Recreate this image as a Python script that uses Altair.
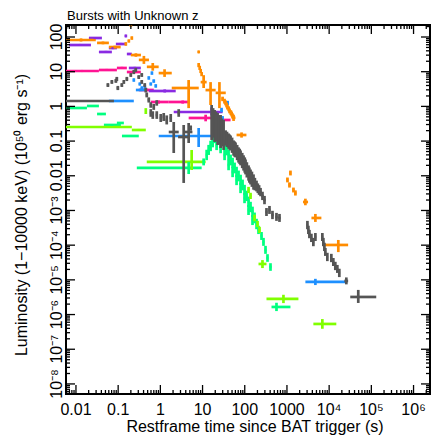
import altair as alt
import pandas as pd

# All values are log10: (t, t_lo, t_hi, L, L_lo, L_hi); t in s, L in 1e50 erg/s
SPRING = [
    (-1.953, -2.40, -1.74, -0.046, -0.07, -0.02),
    (-1.598, -1.74, -1.456, 0.012, -0.01, 0.04),
    (-1.409, -1.50, -1.29, -0.219, -0.25, -0.19),
    (-1.149, -1.338, -0.936, -0.536, -0.565, -0.51),
    (-0.96, -1.03, -0.865, -0.478, -0.505, -0.45),
    (-0.70, -0.91, -0.511, -0.853, -0.88, -0.825),
    (0.671, -0.558, 0.979, -1.775, -1.95, -1.60),
    (1.026, 0.99, 1.06, -1.602, -1.70, -1.50),
    (1.097, 1.075, 1.12, -1.401, -1.55, -1.25),
    (1.144, 1.125, 1.165, -1.256, -1.40, -1.11),
    (1.191, 1.17, 1.21, -1.141, -1.29, -0.99),
    (1.239, 1.22, 1.26, -1.026, -1.18, -0.88),
    (1.286, 1.265, 1.305, -0.911, -1.06, -0.76),
    (1.333, 1.31, 1.355, -0.824, -0.97, -0.68),
    (1.381, 1.36, 1.40, -0.767, -0.92, -0.62),
    (1.428, 1.41, 1.45, -0.882, -1.03, -0.73),
    (1.475, 1.455, 1.495, -0.968, -1.12, -0.82),
    (1.522, 1.50, 1.545, -1.112, -1.26, -0.96),
    (1.570, 1.55, 1.59, -1.256, -1.41, -1.11),
    (1.617, 1.595, 1.64, -1.401, -1.55, -1.25),
    (1.664, 1.645, 1.685, -1.545, -1.70, -1.39),
    (1.712, 1.69, 1.73, -1.631, -1.78, -1.48),
    (1.759, 1.74, 1.78, -1.775, -1.93, -1.62),
    (1.806, 1.785, 1.825, -1.890, -2.04, -1.74),
    (1.853, 1.83, 1.875, -2.006, -2.16, -1.85),
    (1.901, 1.88, 1.92, -2.121, -2.27, -1.97),
    (1.948, 1.93, 1.97, -2.265, -2.42, -2.11),
    (1.995, 1.975, 2.015, -2.409, -2.56, -2.26),
    (2.043, 2.02, 2.065, -2.582, -2.73, -2.43),
    (2.090, 2.07, 2.11, -2.755, -2.90, -2.60),
    (2.137, 2.115, 2.16, -2.899, -3.05, -2.75),
    (2.184, 2.165, 2.205, -3.043, -3.19, -2.89),
    (2.232, 2.21, 2.255, -3.216, -3.37, -3.06),
    (2.279, 2.26, 2.30, -3.389, -3.54, -3.24),
    (2.326, 2.305, 2.345, -3.562, -3.68, -3.44),
    (2.397, 2.375, 2.42, -3.735, -3.85, -3.62),
    (2.444, 2.42, 2.465, -3.908, -4.02, -3.79),
    (2.492, 2.47, 2.515, -4.138, -4.25, -4.02),
    (2.539, 2.515, 2.56, -4.369, -4.48, -4.26),
    (2.610, 2.585, 2.635, -4.628, -4.74, -4.52),
    (1.333, 1.31, 1.355, -1.112, -1.26, -0.96),
    (1.428, 1.405, 1.45, -1.199, -1.35, -1.05),
    (1.522, 1.50, 1.545, -1.401, -1.55, -1.25),
    (1.617, 1.595, 1.64, -1.689, -1.84, -1.54),
    (1.712, 1.69, 1.735, -1.890, -2.04, -1.74),
    (1.806, 1.785, 1.83, -2.121, -2.27, -1.97),
    (1.901, 1.88, 1.92, -2.352, -2.50, -2.20),
    (1.995, 1.975, 2.015, -2.640, -2.79, -2.49),
    (2.090, 2.07, 2.11, -2.986, -3.13, -2.84),
    (2.184, 2.165, 2.205, -3.274, -3.42, -3.13),
    (2.752, 2.634, 3.083, -5.781, -5.90, -5.66),
]

CHART = [
    (-1.43, -2.40, -0.676, -0.594, -0.62, -0.565),
    (-0.511, -0.676, -0.345, -0.68, -0.71, -0.65),
    (-0.345, -0.36, -0.33, -0.133, -0.22, -0.05),
    (0.742, -0.322, 1.073, -1.602, -1.833, -1.256),
    (2.090, 2.07, 2.11, -2.409, -2.50, -2.32),
    (2.137, 2.115, 2.16, -2.58, -2.67, -2.49),
    (2.232, 2.21, 2.255, -3.216, -3.31, -3.12),
    (2.303, 2.28, 2.325, -3.39, -3.48, -3.30),
    (2.35, 2.33, 2.37, -3.562, -3.65, -3.47),
    (2.42, 2.326, 2.515, -4.542, -4.66, -4.43),
    (2.917, 2.515, 3.272, -5.55, -5.67, -5.43),
    (3.839, 3.626, 4.17, -6.271, -6.41, -6.13),
]

PINK = [
    (-1.86, -2.40, -1.456, 1.02, 0.99, 1.05),
    (-1.267, -1.456, -1.03, 1.049, 1.02, 1.08),
    (-0.91, -1.03, -0.794, 1.107, 1.08, 1.14),
    (-0.63, -0.794, -0.463, 0.991, 0.96, 1.02),
    (-0.32, -0.511, -0.156, 0.473, 0.44, 0.51),
    (-0.04, -0.227, 0.199, 0.127, 0.08, 0.17),
    (0.53, 0.199, 0.671, 0.127, 0.08, 0.17),
    (1.073, 0.671, 1.333, -0.334, -0.43, -0.24),
    (1.45, 1.333, 1.664, -0.392, -0.49, -0.30),
]

PURPLE = [
    (-1.551, -1.693, -1.385, 1.971, 1.94, 2.0),
    (-1.905, -2.165, -1.645, 1.769, 1.74, 1.80),
    (-1.29, -1.456, -1.149, 1.568, 1.54, 1.60),
    (-1.125, -1.22, -1.03, 1.683, 1.65, 1.71),
    (-0.936, -1.054, -0.794, 1.798, 1.77, 1.83),
    (-0.818, -0.84, -0.80, 2.03, 1.99, 2.07),
    (-0.747, -0.794, -0.676, 1.51, 1.48, 1.54),
    (-0.605, -0.747, -0.463, 1.107, 1.07, 1.14),
    (0.104, -0.274, 0.364, 0.444, 0.40, 0.49),
    (1.215, 0.317, 1.475, -0.161, -0.26, -0.03),
]

BLUE = [
    (-0.936, -1.22, -0.629, 0.156, 0.13, 0.18),
    (-0.629, -0.65, -0.61, 0.761, 0.71, 0.81),
    (-0.487, -0.51, -0.465, 0.646, 0.60, 0.69),
    (-0.46, -0.58, -0.345, 0.473, 0.44, 0.51),
    (-0.369, -0.39, -0.35, 0.56, 0.51, 0.61),
    (-0.274, -0.295, -0.255, 0.818, 0.77, 0.87),
    (-0.227, -0.25, -0.205, 0.646, 0.60, 0.69),
    (-0.156, -0.18, -0.135, 0.732, 0.68, 0.78),
    (-0.109, -0.13, -0.09, 0.588, 0.54, 0.64),
    (-0.20, -0.22, -0.18, 0.963, 0.91, 1.01),
    (-0.44, -0.46, -0.42, 0.53, 0.48, 0.58),
    (0.908, -0.038, 1.31, -0.853, -1.17, -0.622),
    (1.593, 1.57, 1.615, 0.098, 0.04, 0.16),
    (1.45, 1.43, 1.47, -0.104, -0.17, -0.04),
    (1.475, 1.455, 1.495, -0.392, -0.50, -0.28),
    (1.40, 1.38, 1.42, -0.68, -0.78, -0.58),
    (3.674, 3.437, 4.407, -5.061, -5.15, -4.97),
]

ORANGE = [
    (-1.88, -2.40, -1.53, 1.914, 1.87, 1.96),
    (-1.36, -1.50, -1.22, 1.83, 1.79, 1.87),
    (-1.08, -1.22, -0.94, 1.71, 1.67, 1.75),
    (-0.818, -0.84, -0.80, 1.80, 1.75, 1.85),
    (-0.747, -0.77, -0.72, 1.885, 1.84, 1.93),
    (-0.676, -0.70, -0.65, 1.97, 1.92, 2.02),
    (-0.70, -0.72, -0.68, 2.40, 2.30, 2.50),
    (-0.58, -0.70, -0.46, 1.48, 1.43, 1.53),
    (-0.39, -0.51, -0.27, 1.34, 1.225, 1.455),
    (-0.18, -0.32, -0.04, 1.14, 1.03, 1.25),
    (0.10, -0.04, 0.27, 0.96, 0.85, 1.07),
    (0.908, 0.89, 0.925, 1.57, 1.53, 1.61),
    (0.908, 0.89, 0.925, 1.19, 1.13, 1.25),
    (0.932, 0.915, 0.95, 1.11, 1.05, 1.17),
    (0.955, 0.94, 0.97, 1.02, 0.96, 1.08),
    (0.979, 0.96, 1.0, 0.93, 0.87, 0.99),
    (1.026, 0.955, 1.097, 0.70, 0.53, 0.90),
    (0.67, 0.27, 0.91, 0.53, -0.05, 0.76),
    (1.19, 1.07, 1.31, 0.47, 0.04, 0.70),
    (1.40, 1.31, 1.55, 0.39, -0.05, 0.70),
    (1.475, 1.45, 1.50, 0.213, 0.15, 0.28),
    (1.52, 1.495, 1.545, 0.15, 0.08, 0.22),
    (1.546, 1.52, 1.57, 0.098, 0.03, 0.17),
    (1.57, 1.545, 1.595, 0.04, -0.03, 0.11),
    (1.59, 1.565, 1.615, -0.017, -0.09, 0.05),
    (1.62, 1.595, 1.645, -0.07, -0.14, 0.0),
    (1.64, 1.615, 1.665, -0.13, -0.20, -0.06),
    (1.67, 1.645, 1.695, -0.18, -0.25, -0.11),
    (1.69, 1.665, 1.715, -0.22, -0.29, -0.15),
    (1.71, 1.685, 1.735, -0.27, -0.34, -0.20),
    (1.735, 1.69, 1.78, -0.33, -0.42, -0.24),
    (1.924, 1.806, 2.04, -0.824, -0.90, -0.75),
    (3.083, 3.06, 3.10, -1.92, -1.99, -1.85),
    (3.012, 2.99, 3.035, -2.121, -2.19, -2.05),
    (3.06, 3.035, 3.085, -2.265, -2.34, -2.19),
    (3.154, 3.13, 3.18, -2.409, -2.48, -2.34),
    (3.20, 3.175, 3.225, -2.496, -2.57, -2.42),
    (3.437, 3.38, 3.50, -2.755, -2.85, -2.66),
    (3.674, 3.58, 3.816, -3.216, -3.33, -3.10),
    (4.217, 3.863, 4.45, -3.994, -4.2, -3.85),
]

GRAY = [
    (-1.48, -2.40, -1.10, 0.156, 0.13, 0.18),
    (-1.243, -1.27, -1.215, 0.617, 0.56, 0.67),
    (-1.149, -1.175, -1.12, 0.703, 0.65, 0.76),
    (-1.054, -1.08, -1.025, 0.732, 0.68, 0.79),
    (-1.031, -1.06, -1.005, 0.790, 0.73, 0.85),
    (-1.007, -1.035, -0.98, 0.530, 0.47, 0.59),
    (-0.912, -0.94, -0.885, 0.617, 0.56, 0.67),
    (-0.865, -0.89, -0.84, 0.703, 0.65, 0.76),
    (-0.794, -0.82, -0.765, 0.790, 0.73, 0.85),
    (-0.700, -0.725, -0.675, 0.905, 0.85, 0.96),
    (-0.629, -0.655, -0.60, 0.991, 0.93, 1.05),
    (-0.582, -0.61, -0.555, 1.049, 0.99, 1.11),
    (-0.511, -0.54, -0.485, 0.847, 0.79, 0.90),
    (-0.440, -0.465, -0.415, 0.905, 0.85, 0.96),
    (-0.440, -0.465, -0.415, 0.703, 0.65, 0.76),
    (-0.369, -0.395, -0.345, 0.617, 0.56, 0.67),
    (-0.345, -0.37, -0.32, 0.473, 0.40, 0.54),
    (-0.322, -0.345, -0.30, 0.329, 0.26, 0.40),
    (-0.274, -0.30, -0.25, 0.184, 0.11, 0.26),
    (-0.227, -0.25, -0.205, 0.040, -0.04, 0.12),
    (-0.156, -0.18, -0.13, -0.017, -0.10, 0.07),
    (-0.085, -0.11, -0.06, 0.098, 0.02, 0.18),
    (-0.227, -0.25, -0.205, -0.190, -0.30, -0.08),
    (-0.180, -0.205, -0.155, -0.248, -0.36, -0.14),
    (-0.085, -0.11, -0.06, -0.248, -0.36, -0.14),
    (0.010, -0.015, 0.035, -0.334, -0.45, -0.22),
    (0.080, 0.055, 0.105, -0.305, -0.42, -0.19),
    (0.151, 0.125, 0.175, -0.392, -0.52, -0.26),
    (0.246, 0.22, 0.27, -0.334, -0.45, -0.22),
    (0.435, 0.41, 0.46, -0.190, -0.30, -0.08),
    (0.317, 0.199, 0.435, -0.738, -1.343, -0.45),
    (0.553, 0.42, 0.69, -0.882, -2.207, -0.536),
    (0.671, 0.58, 0.76, -0.738, -1.055, -0.478),
    (0.719, 0.70, 0.74, -0.622, -0.70, -0.55),
    (1.215, 1.20, 1.23, -0.392, -0.968, 0.04),
    (1.25, 1.235, 1.265, -0.45, -0.90, -0.05),
    (1.286, 1.27, 1.30, -0.536, -1.026, -0.104),
    (1.32, 1.305, 1.335, -0.58, -1.00, -0.15),
    (1.357, 1.34, 1.37, -0.622, -1.112, -0.19),
    (1.39, 1.375, 1.405, -0.65, -1.10, -0.25),
    (1.428, 1.41, 1.445, -0.68, -1.199, -0.248),
    (1.46, 1.445, 1.475, -0.72, -1.15, -0.35),
    (1.499, 1.48, 1.52, -0.767, -1.256, -0.392),
    (1.546, 1.525, 1.565, -0.911, -1.13, -0.69),
    (1.58, 1.56, 1.60, -0.95, -1.17, -0.73),
    (1.617, 1.595, 1.64, -0.997, -1.22, -0.78),
    (1.64, 1.62, 1.66, -1.03, -1.25, -0.81),
    (1.664, 1.645, 1.685, -1.055, -1.27, -0.84),
    (1.70, 1.68, 1.72, -1.12, -1.34, -0.90),
    (1.735, 1.715, 1.755, -1.199, -1.42, -0.98),
    (1.76, 1.74, 1.78, -1.23, -1.45, -1.01),
    (1.782, 1.76, 1.80, -1.256, -1.47, -1.04),
    (1.82, 1.80, 1.84, -1.33, -1.55, -1.11),
    (1.853, 1.83, 1.875, -1.401, -1.62, -1.18),
    (1.88, 1.86, 1.90, -1.44, -1.66, -1.22),
    (1.901, 1.88, 1.92, -1.487, -1.70, -1.27),
    (1.94, 1.92, 1.96, -1.56, -1.78, -1.34),
    (1.972, 1.95, 1.99, -1.631, -1.85, -1.41),
    (2.00, 1.98, 2.02, -1.69, -1.91, -1.47),
    (2.019, 2.0, 2.04, -1.746, -1.96, -1.53),
    (2.05, 2.03, 2.07, -1.83, -2.05, -1.61),
    (2.090, 2.07, 2.11, -1.919, -2.14, -1.70),
    (2.11, 2.09, 2.13, -1.98, -2.20, -1.76),
    (2.137, 2.115, 2.16, -2.035, -2.25, -1.82),
    (2.17, 2.15, 2.19, -2.10, -2.32, -1.88),
    (2.208, 2.19, 2.23, -2.179, -2.40, -1.96),
    (2.24, 2.22, 2.26, -2.24, -2.42, -2.06),
    (2.279, 2.26, 2.30, -2.294, -2.45, -2.14),
    (2.31, 2.29, 2.33, -2.36, -2.50, -2.22),
    (2.34, 2.32, 2.36, -2.41, -2.55, -2.27),
    (2.374, 2.345, 2.40, -2.467, -2.59, -2.35),
    (2.42, 2.39, 2.45, -2.582, -2.70, -2.46),
    (2.468, 2.44, 2.495, -2.697, -2.82, -2.58),
    (2.515, 2.49, 2.54, -3.043, -3.16, -2.93),
    (2.586, 2.56, 2.61, -2.986, -3.10, -2.87),
    (2.657, 2.63, 2.685, -3.130, -3.25, -3.01),
    (2.752, 2.725, 2.78, -3.187, -3.30, -3.07),
    (2.823, 2.795, 2.85, -3.216, -3.33, -3.10),
    (3.485, 3.465, 3.505, -3.418, -3.54, -3.30),
    (3.508, 3.49, 3.53, -3.562, -3.68, -3.44),
    (3.532, 3.51, 3.555, -3.677, -3.80, -3.56),
    (3.579, 3.56, 3.60, -3.792, -3.91, -3.67),
    (3.626, 3.605, 3.645, -3.908, -4.03, -3.79),
    (3.674, 3.655, 3.695, -3.764, -3.88, -3.65),
    (3.839, 3.82, 3.86, -3.764, -3.88, -3.65),
    (3.863, 3.845, 3.885, -3.908, -4.03, -3.79),
    (3.887, 3.865, 3.905, -4.052, -4.17, -3.93),
    (3.91, 3.89, 3.93, -4.196, -4.31, -4.08),
    (3.957, 3.935, 3.975, -4.34, -4.46, -4.22),
    (4.052, 4.03, 4.07, -4.369, -4.49, -4.25),
    (4.099, 4.08, 4.12, -4.484, -4.60, -4.37),
    (4.146, 4.125, 4.165, -4.599, -4.72, -4.48),
    (4.194, 4.175, 4.215, -4.686, -4.80, -4.57),
    (4.241, 4.22, 4.26, -4.801, -4.92, -4.68),
    (4.407, 4.36, 4.45, -5.032, -5.13, -4.93),
    (4.69, 4.50, 5.116, -5.493, -5.666, -5.29),
]

SERIES = ["spring", "chartreuse", "pink", "purple", "blue", "orange", "gray"]
COLORS = ["#00ff80", "#80ff00", "#ff1493", "#8a2be2", "#1e90ff", "#ff8c00", "#555555"]
POINTS = [SPRING, CHART, PINK, PURPLE, BLUE, ORANGE, GRAY]

X_LABELS = ["0.01", "0.1", "1", "10", "100", "1000", "10\u2074", "10\u2075", "10\u2076"]
Y_LABELS = ["10\u207b\u2078", "10\u207b\u2077", "10\u207b\u2076", "10\u207b\u2075", "10\u207b\u2074",
            "10\u207b\u00b3", "0.01", "0.1", "1", "10", "100"]
TITLE = "Bursts with Unknown z"
X_TITLE = "Restframe time since BAT trigger (s)"
Y_TITLE = "Luminosity (1\u221210000 keV) (10\u2075\u2070 erg s\u207b\u00b9)"

rows = []
for name, pts in zip(SERIES, POINTS):
    for (t, tlo, thi, L, Llo, Lhi) in pts:
        rows.append(dict(series=name, t=10 ** t, tlo=10 ** tlo, thi=10 ** thi,
                         L=10 ** L, Llo=10 ** Llo, Lhi=10 ** Lhi))
df = pd.DataFrame(rows)

# label table for the axes (decade value -> text)
x_lab_df = pd.DataFrame({"v": [10.0 ** k for k in range(-2, 7)], "txt": X_LABELS})
y_lab_df = pd.DataFrame({"v": [10.0 ** k for k in range(-8, 3)], "txt": Y_LABELS})

W, H = 364, 369
XMIN, XMAX = 10 ** -2.236, 10 ** 6.39
YMIN, YMAX = 10 ** -8.29, 10 ** 2.346
xscale = alt.Scale(type="log", domain=[XMIN, XMAX], nice=False)
yscale = alt.Scale(type="log", domain=[YMIN, YMAX], nice=False)
color = alt.Color("series:N", scale=alt.Scale(domain=SERIES, range=COLORS), legend=None)
FONT = "Liberation Sans"

hbars = alt.Chart(df).mark_rule(strokeWidth=2.7, clip=True).encode(
    x=alt.X("tlo:Q", scale=xscale, axis=None),
    x2="thi:Q",
    y=alt.Y("L:Q", scale=yscale, axis=None),
    color=color,
)
vbars = alt.Chart(df).mark_rule(strokeWidth=2.7, clip=True).encode(
    x=alt.X("t:Q", scale=xscale, axis=None),
    y=alt.Y("Llo:Q", scale=yscale, axis=None),
    y2="Lhi:Q",
    color=color,
)

# tick labels as text marks placed by the scales, just outside the frame
x_labels = alt.Chart(x_lab_df).mark_text(
    font=FONT, fontSize=16, baseline="top", align="center"
).encode(x=alt.X("v:Q", scale=xscale, axis=None), y=alt.value(H + 8), text="txt:N")
y_labels = alt.Chart(y_lab_df).mark_text(
    font=FONT, fontSize=16, baseline="alphabetic", align="center", angle=270
).encode(y=alt.Y("v:Q", scale=yscale, axis=None), x=alt.value(-4), text="txt:N")

x_title = alt.Chart(pd.DataFrame({"txt": [X_TITLE]})).mark_text(
    font=FONT, fontSize=16, baseline="middle", align="center"
).encode(x=alt.value(189), y=alt.value(H + 33), text="txt:N")
y_title = alt.Chart(pd.DataFrame({"txt": [Y_TITLE]})).mark_text(
    font=FONT, fontSize=16, baseline="middle", align="center", angle=270
).encode(x=alt.value(-44), y=alt.value(190), text="txt:N")
top_title = alt.Chart(pd.DataFrame({"txt": [TITLE]})).mark_text(
    font=FONT, fontSize=13, baseline="alphabetic", align="left"
).encode(x=alt.value(1), y=alt.value(-5.5), text="txt:N")

x_major = [10.0 ** k for k in range(-2, 7)]
x_minor = [m * 10.0 ** k for k in range(-3, 7) for m in range(2, 10) if XMIN <= m * 10.0 ** k <= XMAX]
y_major = [10.0 ** k for k in range(-8, 3)]
y_minor = [m * 10.0 ** k for k in range(-9, 3) for m in range(2, 10) if YMIN <= m * 10.0 ** k <= YMAX]


def ticks(vals, axis, length):
    d = pd.DataFrame({"v": vals})
    layers = []
    if axis == "x":
        enc = alt.X("v:Q", scale=xscale, axis=None)
        layers.append(alt.Chart(d).mark_rule(color="black", strokeWidth=1.3).encode(
            x=enc, y=alt.value(H), y2=alt.value(H - length)))
        layers.append(alt.Chart(d).mark_rule(color="black", strokeWidth=1.3).encode(
            x=enc, y=alt.value(0), y2=alt.value(length)))
    else:
        enc = alt.Y("v:Q", scale=yscale, axis=None)
        layers.append(alt.Chart(d).mark_rule(color="black", strokeWidth=1.3).encode(
            y=enc, x=alt.value(0), x2=alt.value(length)))
        layers.append(alt.Chart(d).mark_rule(color="black", strokeWidth=1.3).encode(
            y=enc, x=alt.value(W), x2=alt.value(W - length)))
    return layers


tick_layers = (ticks(x_major, "x", 9) + ticks(x_minor, "x", 4)
               + ticks(y_major, "y", 9) + ticks(y_minor, "y", 4))

chart = alt.layer(hbars, vbars, *tick_layers, x_labels, y_labels, x_title, y_title, top_title).properties(
    width=W, height=H,
    autosize=alt.AutoSizeParams(type="none"),
    padding={"left": 58, "top": 17, "right": 1, "bottom": 42},
).configure_view(stroke="black", strokeWidth=2)

chart.save("out.html", embed_options={"renderer": "svg", "actions": False})
